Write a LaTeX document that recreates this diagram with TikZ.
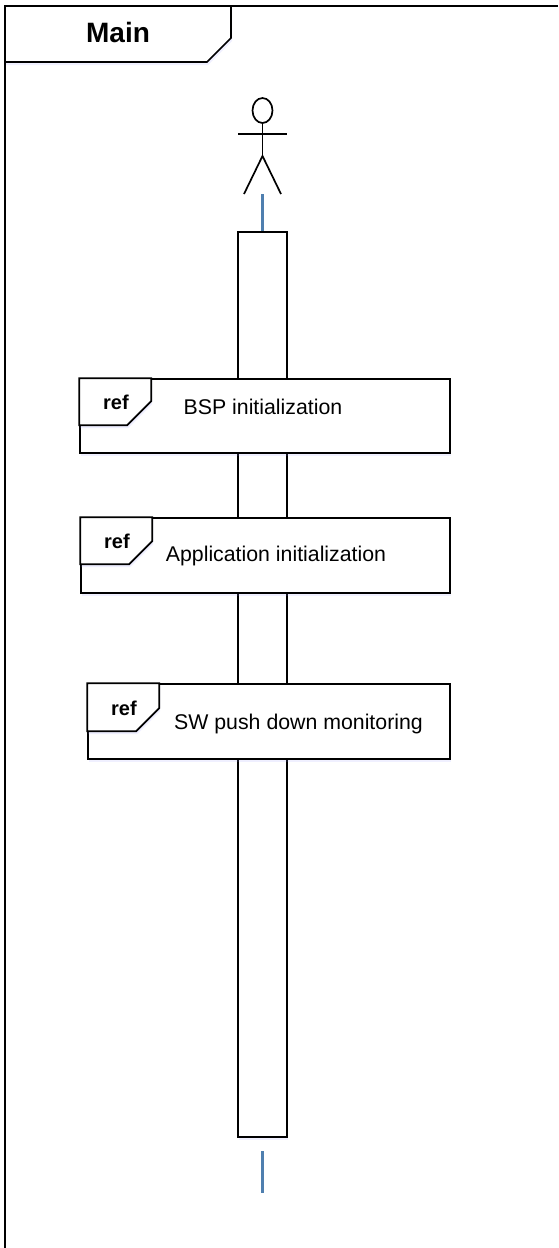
\documentclass[tikz,border=0pt]{standalone}
\usepackage{fontspec}
\setmainfont{Liberation Sans}
\usetikzlibrary{shapes.geometric,shadows}
\definecolor{lifeblue}{HTML}{4F7FAF}
\begin{document}
\begin{tikzpicture}[
        x=1pt, y=-1pt,
        line width=1.7pt,
        softshadow/.style={drop shadow={shadow xshift=1pt, shadow yshift=-3pt, fill=blue!40, opacity=0.15}},
        lifebar/.style={rectangle, draw=black, fill=white, softshadow, inner sep=0pt, minimum width=49pt, minimum height=905pt},
        refbox/.style={rectangle, draw=black, fill=white, softshadow, inner sep=0pt, minimum height=75pt},
        reftab/.style={draw=black, fill=white, softshadow},
        reflabel/.style={font=\bfseries\fontsize{20}{23}\selectfont, inner sep=0pt},
        reftext/.style={font=\fontsize{21.3}{25}\selectfont, inner sep=0pt},
        head/.style={ellipse, draw=black, inner sep=0pt, minimum width=20pt, minimum height=25pt},
        lifeline/.style={draw=lifeblue, line width=2.2pt}
    ]
    \useasboundingbox (0,0) rectangle (558,1248);
    % frame
    \coordinate (framecorner) at (5,6);
    \draw (558,6) -- (framecorner) -- (5,1248);
    \draw[reftab] (framecorner) -- (231,6) -- (231,38) -- (207,62) -- (5,62) -- cycle;
    \node[font=\bfseries\fontsize{28}{32}\selectfont, inner sep=0pt] (main) at (118,32) {Main};
    % actor
    \node[head] (actorhead) at (262.5,110.5) {};
    \coordinate (hip) at (262.5,156);
    \coordinate (lefthand) at (238,134);
    \coordinate (righthand) at (287,134);
    \coordinate (leftfoot) at (244,194);
    \coordinate (rightfoot) at (281,194);
    \coordinate (actorbase) at (262.5,194);
    \draw (actorhead.south) -- (hip);
    \draw (lefthand) -- (righthand);
    \draw (leftfoot) -- (hip) -- (rightfoot);
    % lifeline
    \node[lifebar] (life) at (262.5,684.5) {};
    \draw[lifeline] (actorbase) -- (life.north);
    \coordinate (lifeendtop) at (262.5,1151);
    \coordinate (lifeendbottom) at (262.5,1193);
    \draw[lifeline] (lifeendtop) -- (lifeendbottom);
    % references
    \node[refbox, minimum width=370pt, minimum height=74pt] (bsp) at (265,416) {};
    \draw[reftab] (bsp.north west) -- ++(72,0) -- ++(0,23) -- ++(-24,24) -- ++(-48,0) -- cycle;
    \node[reflabel] (bspref) at (116,402) {ref};
    \node[reftext] (bsptext) at (263,407) {BSP initialization};

    \node[refbox, minimum width=369pt] (app) at (265.5,555.5) {};
    \draw[reftab] (app.north west) -- ++(72,0) -- ++(0,24) -- ++(-23,23) -- ++(-49,0) -- cycle;
    \node[reflabel] (appref) at (117,541) {ref};
    \node[reftext] (apptext) at (276,555.5) {Application initialization};

    \node[refbox, minimum width=362pt] (mon) at (269,721.5) {};
    \draw[reftab] (mon.north west) -- ++(72,0) -- ++(0,25) -- ++(-23,23) -- ++(-49,0) -- cycle;
    \node[reflabel] (monref) at (124,708) {ref};
    \node[reftext] (montext) at (298.5,724) {SW push down monitoring};
\end{tikzpicture}
\end{document}
